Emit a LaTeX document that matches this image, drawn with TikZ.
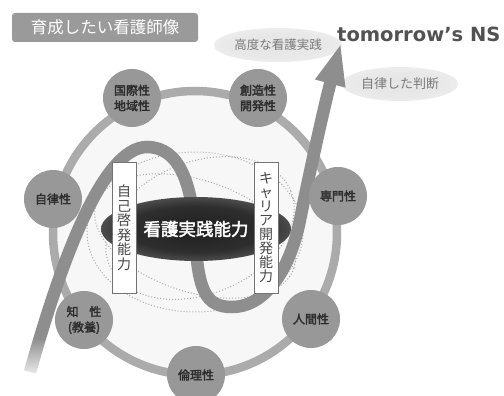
\documentclass[tikz,border=0pt]{standalone}
\usepackage{fontspec}
\newfontfamily\jp{Noto Sans CJK JP}[AutoFakeBold=2.5]
\newfontfamily\dv{DejaVu Sans}
\usetikzlibrary{arrows.meta,fadings}
\definecolor{ringc}{HTML}{ABABAB}
\definecolor{wavec}{HTML}{8E8E8E}
\definecolor{circc}{HTML}{989898}
\definecolor{txtc}{HTML}{2C2C2C}
\definecolor{boxc}{HTML}{9A9A9A}
\definecolor{innerc}{HTML}{EDEDED}
\definecolor{midc}{HTML}{F7F7F7}
\definecolor{dotc}{HTML}{A8A8A8}
\definecolor{lblc}{HTML}{7A7A7A}
\definecolor{tmrc}{HTML}{525252}
\pgfdeclareradialshading{coreglow}{\pgfpoint{0bp}{0bp}}{color(0bp)=(black!88); color(18bp)=(black!82); color(30bp)=(black!62); color(42bp)=(black!22); color(50bp)=(midc)}
\pgfdeclareradialshading{softglow}{\pgfpoint{0bp}{0bp}}{color(0bp)=(black!10); color(18bp)=(black!9); color(36bp)=(black!5); color(50bp)=(white)}
\pgfdeclareradialshading{discshade}{\pgfpoint{0bp}{0bp}}{color(0bp)=(midc); color(28bp)=(midc); color(50bp)=(innerc)}
\tikzset{
  circnode/.style={circle, fill=circc, minimum size=58pt, inner sep=0pt, text=txtc,
    font=\jp\bfseries\fontsize{12}{15.5}\selectfont, align=center},
  vbox/.style={draw=black!55, line width=0.9pt, fill=white, minimum width=24pt,
    minimum height=131pt, inner sep=0pt, text=black!72, align=center},
  titlebox/.style={rounded corners=3pt, fill=boxc, minimum width=186pt, minimum height=29pt,
    inner sep=0pt, text=white, font=\jp\fontsize{16.5}{18}\selectfont},
  glowlbl/.style={text=lblc, inner sep=0pt},
  dotell/.style={dotc, line width=1pt, dotted}
}
\begin{document}
\begin{tikzpicture}[x=1pt,y=-1pt]
\useasboundingbox (0,0) rectangle (504,396);
\fill[white] (0,0) rectangle (504,396);
% inner disc
\path[shading=discshade] (195,233) circle [radius=142];
% dotted orbits
\draw[dotell] (195,232) ellipse [x radius=108, y radius=80];
\draw[dotell, rotate around={22:(200,228)}] (200,228) ellipse [x radius=98, y radius=66];
\draw[dotell, rotate around={-18:(195,236)}] (195,236) ellipse [x radius=104, y radius=56];
% ring
\draw[ringc, line width=8.5pt] (195,233) circle [radius=142];
% glow labels
\path[shading=softglow] (278,45) ellipse [x radius=64, y radius=17];
\path[shading=softglow] (400,84) ellipse [x radius=58, y radius=17];
\node[glowlbl, font=\jp\fontsize{12.5}{14}\selectfont] (kodo) at (278,45) {高度な看護実践};
\node[glowlbl, font=\jp\fontsize{13}{14}\selectfont] (jiritsu) at (400,84) {自律した判断};
% wave
\draw[wavec, line width=12.5pt, -{Triangle[length=42pt,width=28pt]}]
  (30,372) .. controls (60,265) and (102,147) .. (147,147)
  .. controls (180,147) and (192,185) .. (195,235)
  .. controls (198,290) and (205,307) .. (232,307)
  .. controls (265,307) and (290,270) .. (300,220)
  .. controls (310,170) and (325,103) .. (341,43);
\fill[white, path fading=north] (10,338) rectangle (70,382);
% circles
\node[circnode] (kokusai) at (132,98) {国際性\\地域性};
\node[circnode] (souzou) at (258,98) {創造性\\開発性};
\node[circnode] (jiritsusei) at (53,199) {自律性};
\node[circnode] (senmon) at (338,196) {専門性};
\node[circnode] (chisei) at (84,320) {知\hspace{0.9em}性\\(教養)};
\node[circnode] (rinri) at (196,375) {倫理性};
\node[circnode] (ningen) at (311,319) {人間性};
% core
\path[shading=coreglow] (196,229) ellipse [x radius=95, y radius=32];
\node[text=white, font=\jp\bfseries\fontsize{17.5}{19}\selectfont] (core) at (196,229) {看護実践能力};
% vertical boxes
\node[vbox, font=\jp\fontsize{14}{14.5}\selectfont] (jiko) at (124,227.5) {自\\己\\啓\\発\\能\\力};
\node[vbox, font=\jp\fontsize{14}{14.1}\selectfont] (career) at (266,227.5) {キ\\ャ\\リ\\ア\\開\\発\\能\\力};
% title
\node[titlebox] (title) at (105,27.5) {育成したい看護師像};
\node[anchor=base west, inner sep=0pt, text=tmrc, font=\dv\bfseries\fontsize{19.5}{21}\selectfont] (tmr) at (337,42) {tomorrow’s NS};
\end{tikzpicture}
\end{document}
